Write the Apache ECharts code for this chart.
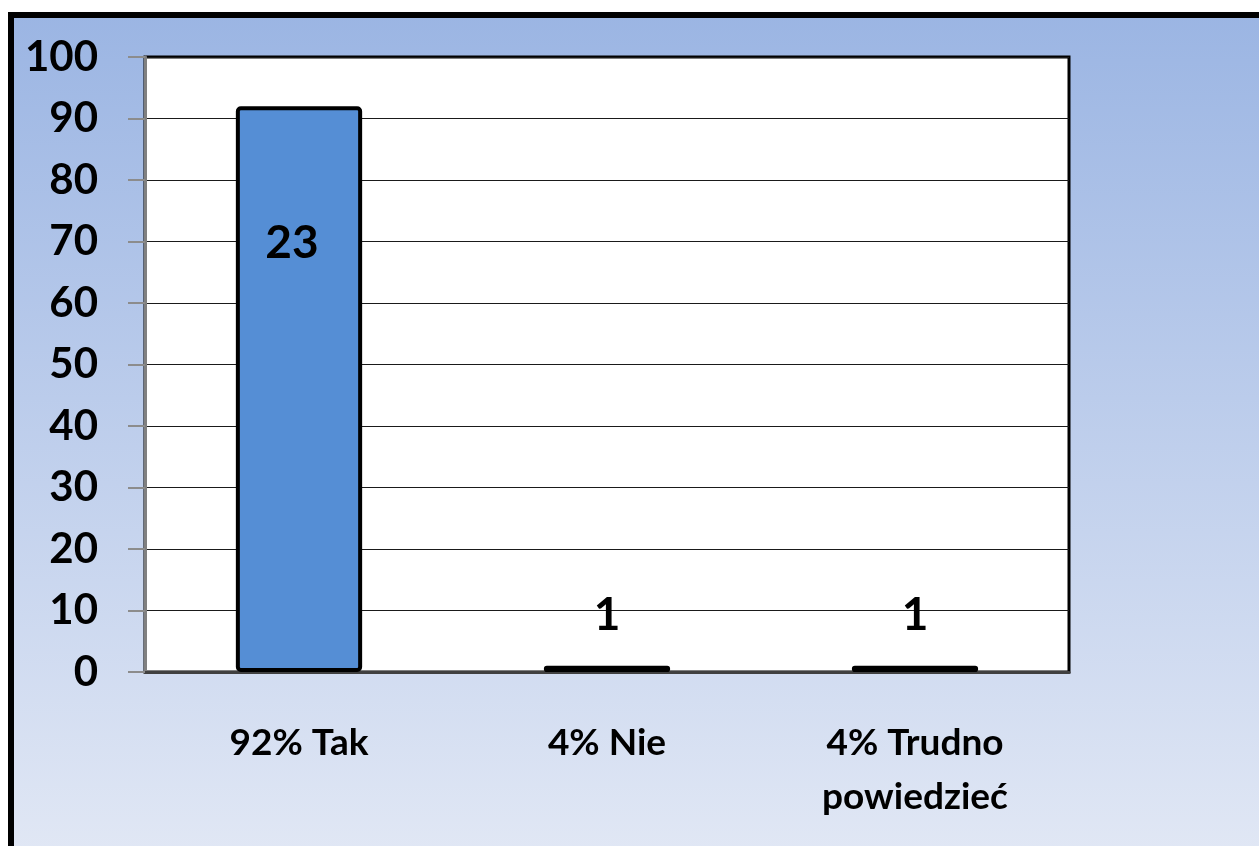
<!DOCTYPE html>
<html>
<head>
<meta charset="utf-8">
<script src="https://cdn.jsdelivr.net/npm/echarts@6/dist/echarts.min.js"></script>
<style>
html, body { margin: 0; padding: 0; background: #fff; }
#canvas { width: 1259px; height: 846px; }
</style>
</head>
<body>
<div id="canvas"></div>
<script>
var categories = ['92% Tak', '4% Nie', '4% Trudno\npowiedzieć'];
var percents = [92, 1, 1];
var counts = [23, 1, 1];
var yTicks = { min: 0, max: 100, interval: 10 };

var font = 'Lato';

var myChart = echarts.init(document.getElementById('canvas'));

var data = [];
for (var i in percents) {
    var item = { value: percents[i] };
    if (percents[i] > 20) {
        item.label = { position: 'insideTop', distance: 114, offset: [-7, 0] };
    } else {
        item.label = { position: 'top', distance: 28 };
    }
    data.push(item);
}

var option = {
    backgroundColor: '#fff',
    animation: false,
    graphic: [{
        type: 'rect',
        z: -10,
        silent: true,
        shape: { x: 11, y: 15, width: 1300, height: 900 },
        style: {
            fill: new echarts.graphic.LinearGradient(0, 0, 0, 1, [
                { offset: 0, color: '#9bb5e3' },
                { offset: 1, color: '#e6ebf6' }
            ]),
            stroke: '#000',
            lineWidth: 6
        }
    }],
    grid: {
        left: 145,
        top: 57,
        right: 190,
        bottom: 174,
        show: true,
        backgroundColor: '#fff',
        borderColor: '#000',
        borderWidth: 3
    },
    xAxis: {
        type: 'category',
        data: categories,
        axisLine: { lineStyle: { color: '#404040', width: 3 } },
        axisTick: { length: 13, lineStyle: { color: '#8c8c8c', width: 2 } },
        axisLabel: {
            margin: 44,
            color: '#000',
            fontFamily: font,
            fontWeight: 'bold',
            fontSize: 37,
            lineHeight: 54
        }
    },
    yAxis: {
        type: 'value',
        min: yTicks.min,
        max: yTicks.max,
        interval: yTicks.interval,
        axisLine: { show: true, lineStyle: { color: '#808080', width: 3 } },
        axisTick: { show: true, length: 17, lineStyle: { color: '#8c8c8c', width: 2 } },
        splitLine: { lineStyle: { color: '#1a1a1a', width: 1 } },
        axisLabel: {
            margin: 47,
            color: '#000',
            fontFamily: font,
            fontWeight: 'bold',
            fontSize: 42
        }
    },
    series: [{
        type: 'bar',
        data: data,
        barWidth: '41%',
        itemStyle: {
            color: '#558ed5',
            borderColor: '#000',
            borderWidth: 4,
            borderRadius: 3
        },
        label: {
            show: true,
            color: '#000',
            fontFamily: font,
            fontWeight: 'bold',
            fontSize: 46,
            formatter: function (p) { return counts[p.dataIndex]; }
        }
    }]
};
myChart.setOption(option);
</script>
</body>
</html>
